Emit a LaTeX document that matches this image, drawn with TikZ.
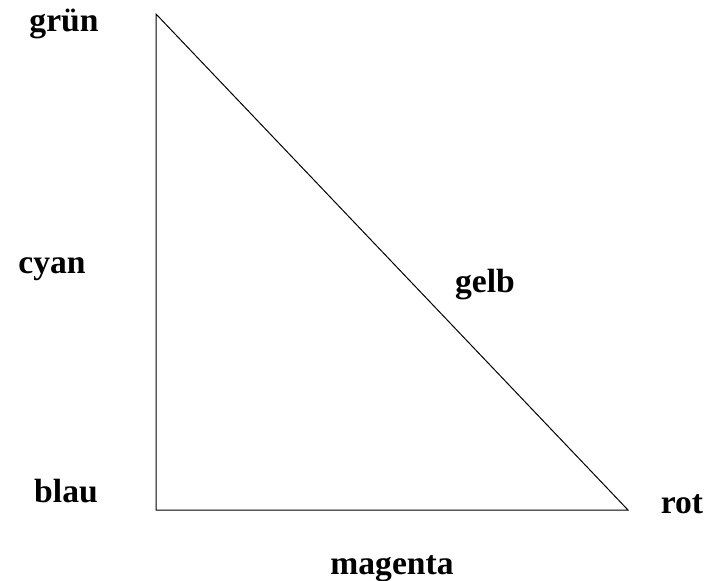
\documentclass[tikz,border=0pt]{standalone}
\usepackage{fontspec}
\setmainfont{Liberation Serif}
\begin{document}
\begin{tikzpicture}[
  x=0.5pt, y=-0.5pt,
  lbl/.style={anchor=base, inner sep=0pt, font=\fontsize{16.8}{20}\selectfont\bfseries},
  edge/.style={line width=0.5pt, black}
]
  \useasboundingbox (0,0) rectangle (715,580);

  % corners of the triangle
  \coordinate (gr) at (156,14);
  \coordinate (bl) at (156,510);
  \coordinate (ro) at (628,510);

  \draw[edge] (gr) -- (bl) -- (ro) -- cycle;

  % colour names
  \node[lbl] (gruen) at (64,31) {grün};
  \node[lbl] (cyan) at (52,273) {cyan};
  \node[lbl] (blau) at (66,502) {blau};
  \node[lbl] (gelb) at (485,292) {gelb};
  \node[lbl] (rot) at (682,513) {rot};
  \node[lbl] (magenta) at (392,574) {magenta};
\end{tikzpicture}
\end{document}
